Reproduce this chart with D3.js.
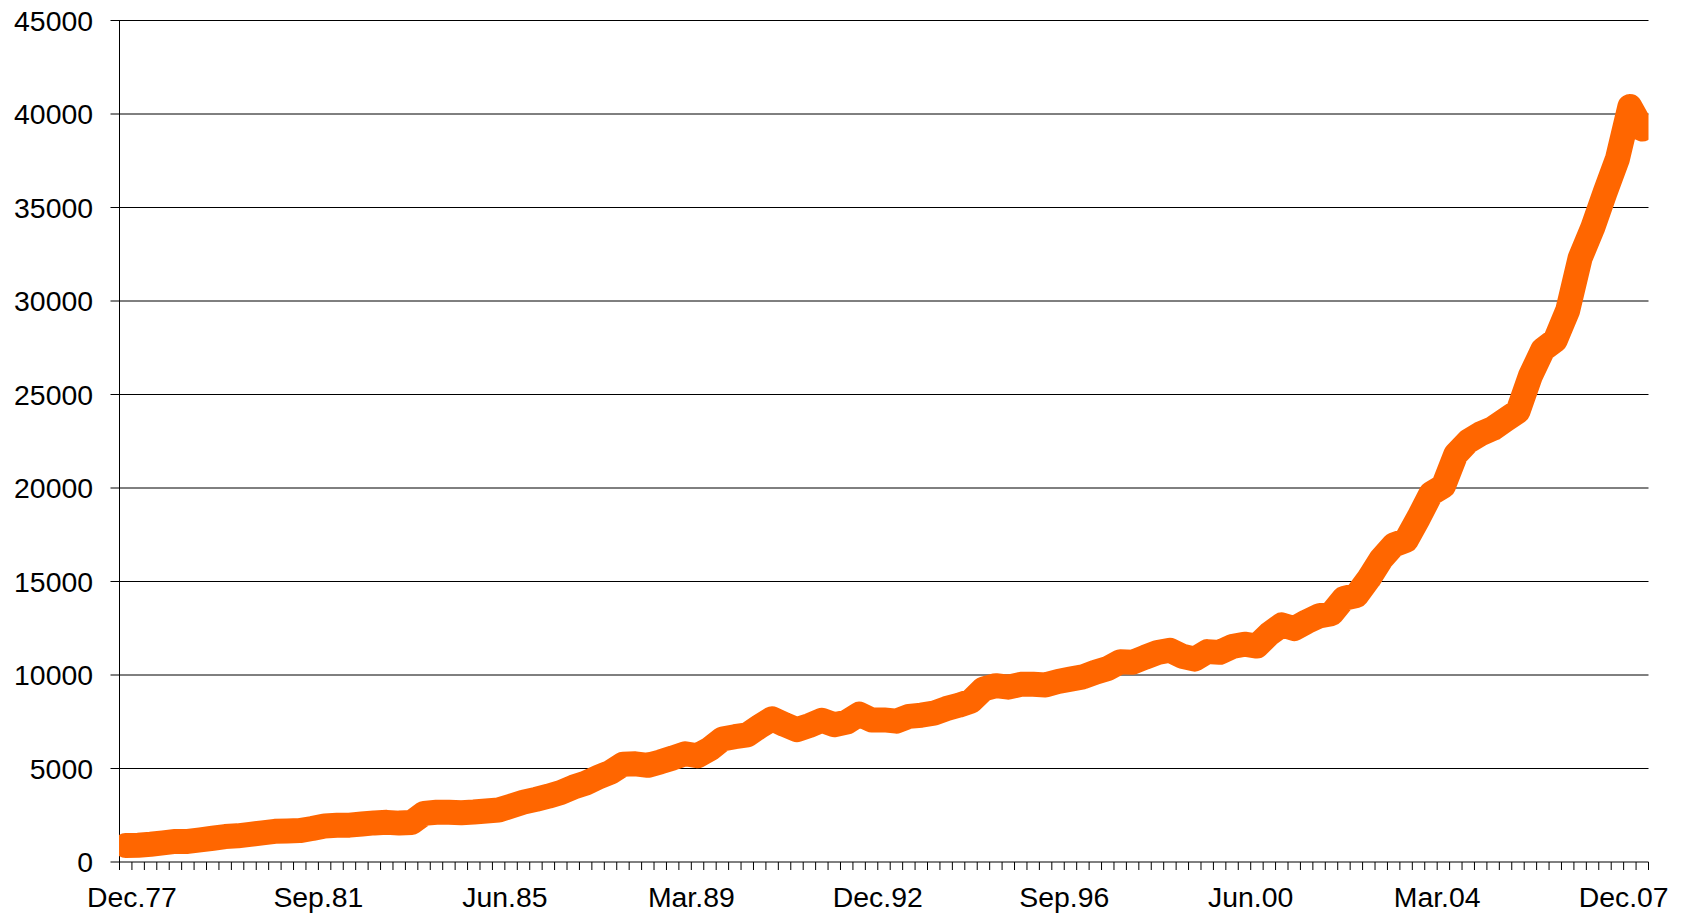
<!DOCTYPE html>
<html>
<head>
<meta charset="utf-8">
<script src="https://cdn.jsdelivr.net/npm/d3@7"></script>
<style>
    body { margin: 0; background: #fff; }
    text { font-family: "Liberation Sans", Arial, sans-serif; font-size: 28.4px; fill: #000; }
</style>
</head>
<body>
<div id="chart"></div>
<script>
var svgWidth = 1690;
var svgHeight = 915;

// quarterly values, first one is Dec.77
var values = [
    880, 900, 950, 1020, 1100, 1100, 1180, 1270, 1360, 1400,
    1480, 1560, 1640, 1660, 1680, 1790, 1930, 1960, 1970, 2030,
    2090, 2120, 2080, 2110, 2600, 2660, 2660, 2630, 2670, 2730,
    2780, 2990, 3200, 3350, 3520, 3720, 4000, 4220, 4530, 4800,
    5230, 5250, 5170, 5350, 5560, 5790, 5680, 6050, 6580, 6700,
    6800, 7250, 7660, 7350, 7075, 7300, 7580, 7340, 7480, 7905,
    7595, 7600, 7530, 7790, 7850, 7960, 8200, 8380, 8600, 9250,
    9430, 9350, 9500, 9510, 9470, 9650, 9780, 9900, 10150, 10350,
    10710, 10680, 10950, 11200, 11320, 11000, 10850, 11250, 11210, 11520,
    11650, 11550, 12200, 12680, 12480, 12850, 13160, 13280, 14100, 14250,
    15150, 16200, 16950, 17200, 18400, 19700, 20100, 21800, 22500, 22900,
    23190, 23650, 24100, 26000, 27400, 27900, 29500, 32300, 33900, 35800,
    37600, 40400, 39200
];

var xLabels = ["Dec.77", "Sep.81", "Jun.85", "Mar.89", "Dec.92", "Sep.96", "Jun.00", "Mar.04", "Dec.07"];
var labelEvery = 15;

var yTicks = [0, 5000, 10000, 15000, 20000, 25000, 30000, 35000, 40000, 45000];

var plot = { left: 119.5, right: 1648.5, top: 20.5, bottom: 862 };

var svg = d3.select("#chart")
    .append("svg")
    .attr("width", svgWidth)
    .attr("height", svgHeight);

// one slot per quarter, points sit in the middle of the slot
var nSlots = values.length;
var xScale = d3.scaleLinear()
    .domain([0, nSlots])
    .range([plot.left, plot.right]);

var yScale = d3.scaleLinear()
    .domain([0, 45000])
    .range([plot.bottom, plot.top]);

// gridlines + y labels
svg.append("g")
    .selectAll("line")
    .data(yTicks.slice(1))
    .enter()
    .append("line")
    .attr("x1", plot.left - 9)
    .attr("x2", plot.right)
    .attr("y1", d => yScale(d))
    .attr("y2", d => yScale(d))
    .attr("stroke", "#000")
    .attr("stroke-width", 1);

svg.append("g")
    .selectAll("text")
    .data(yTicks)
    .enter()
    .append("text")
    .attr("x", 93)
    .attr("y", d => yScale(d))
    .attr("dy", "0.36em")
    .attr("text-anchor", "end")
    .text(d => d);

// y axis line
svg.append("line")
    .attr("x1", plot.left).attr("x2", plot.left)
    .attr("y1", plot.top).attr("y2", plot.bottom)
    .attr("stroke", "#000");

// x axis line and quarter ticks
svg.append("line")
    .attr("x1", plot.left - 9).attr("x2", plot.right)
    .attr("y1", plot.bottom).attr("y2", plot.bottom)
    .attr("stroke", "#000");

svg.append("g")
    .selectAll("line")
    .data(d3.range(nSlots + 1))
    .enter()
    .append("line")
    .attr("x1", d => xScale(d))
    .attr("x2", d => xScale(d))
    .attr("y1", plot.bottom)
    .attr("y2", plot.bottom + 8)
    .attr("stroke", "#000");

svg.append("g")
    .selectAll("text")
    .data(xLabels)
    .enter()
    .append("text")
    .attr("x", (d, i) => xScale(i * labelEvery + 1))
    .attr("y", 906.5)
    .attr("text-anchor", "middle")
    .text(d => d);

// the series, clipped to the plot area like the original
svg.append("clipPath")
    .attr("id", "plotClip")
    .append("rect")
    .attr("x", plot.left - 0.5)
    .attr("y", 0)
    .attr("width", plot.right - plot.left + 0.5)
    .attr("height", plot.bottom);

var line = d3.line()
    .x((d, i) => xScale(i + 0.5))
    .y(d => yScale(d));

svg.append("path")
    .datum(values)
    .attr("clip-path", "url(#plotClip)")
    .attr("d", line)
    .attr("fill", "none")
    .attr("stroke", "#FF6600")
    .attr("stroke-width", 25)
    .attr("stroke-linejoin", "round")
    .attr("stroke-linecap", "round");
</script>
</body>
</html>
